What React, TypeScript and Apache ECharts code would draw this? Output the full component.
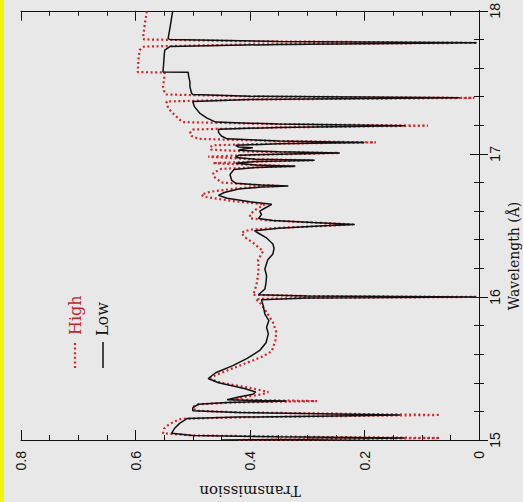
import React, { useEffect, useRef } from "react";
import * as echarts from "echarts";

// Wavelength (Å) and transmission, "Low" model (solid black)
const lowWave = [
  15.0, 15.005, 15.014, 15.022, 15.032, 15.047, 15.08, 15.116, 15.15, 15.16, 15.168, 15.175, 15.182, 15.192,
  15.205, 15.225, 15.25, 15.262, 15.268, 15.272, 15.276, 15.282, 15.3, 15.32, 15.336, 15.36, 15.4, 15.43,
  15.47, 15.52, 15.57, 15.626, 15.68, 15.742, 15.788, 15.835, 15.88, 15.94, 15.98, 15.993, 16.0, 16.006,
  16.015, 16.055, 16.1, 16.148, 16.195, 16.26, 16.3, 16.34, 16.37, 16.415, 16.445, 16.462, 16.48, 16.495,
  16.507, 16.52, 16.535, 16.548, 16.575, 16.6, 16.625, 16.647, 16.665, 16.69, 16.71, 16.73, 16.755, 16.768,
  16.775, 16.782, 16.795, 16.815, 16.856, 16.89, 16.905, 16.914, 16.922, 16.935, 16.946, 16.955, 16.963,
  16.975, 16.99, 16.998, 17.006, 17.014, 17.025, 17.035, 17.042, 17.048, 17.06, 17.07, 17.08, 17.09, 17.105,
  17.125, 17.15, 17.172, 17.185, 17.197, 17.208, 17.222, 17.25, 17.285, 17.33, 17.366, 17.38, 17.392, 17.402,
  17.415, 17.424, 17.47, 17.505, 17.54, 17.57, 17.572, 17.62, 17.68, 17.725, 17.75, 17.765, 17.776, 17.786,
  17.8, 17.806, 17.9, 18.0,
];
const lowTrans = [
  0.45, 0.3, 0.13, 0.35, 0.5, 0.537, 0.532, 0.523, 0.51, 0.42, 0.25, 0.138, 0.25, 0.42,
  0.5, 0.5, 0.49, 0.44, 0.38, 0.336, 0.38, 0.44, 0.42, 0.395, 0.39, 0.41, 0.455, 0.473,
  0.46, 0.43, 0.405, 0.383, 0.372, 0.368, 0.371, 0.367, 0.374, 0.377, 0.38, 0.3, 0.005, 0.3,
  0.385, 0.374, 0.372, 0.371, 0.374, 0.369, 0.36, 0.358, 0.36, 0.372, 0.385, 0.392, 0.35, 0.28,
  0.217, 0.29, 0.36, 0.385, 0.38, 0.383, 0.372, 0.362, 0.4, 0.44, 0.455, 0.445, 0.42, 0.38,
  0.333, 0.38, 0.425, 0.432, 0.435, 0.428, 0.39, 0.322, 0.39, 0.425, 0.39, 0.287, 0.39,
  0.425, 0.42, 0.35, 0.243, 0.35, 0.42, 0.41, 0.395, 0.42, 0.425, 0.35, 0.2, 0.35, 0.44,
  0.45, 0.455, 0.455, 0.35, 0.13, 0.35, 0.46, 0.475, 0.488, 0.497, 0.5, 0.4, 0.035, 0.4,
  0.5, 0.502, 0.505, 0.505, 0.507, 0.508, 0.552, 0.551, 0.55, 0.549, 0.54, 0.35, 0.004, 0.35,
  0.54, 0.543, 0.539, 0.535,
];

// "High" model (red dotted)
const highWave = [
  15.0, 15.006, 15.014, 15.022, 15.032, 15.047, 15.08, 15.104, 15.13, 15.148, 15.16, 15.168, 15.175, 15.183,
  15.193, 15.205, 15.232, 15.25, 15.262, 15.267, 15.272, 15.277, 15.283, 15.3, 15.32, 15.336, 15.36, 15.4,
  15.43, 15.47, 15.534, 15.58, 15.62, 15.69, 15.754, 15.823, 15.893, 15.962, 15.985, 15.993, 16.0, 16.006,
  16.015, 16.04, 16.1, 16.15, 16.2, 16.257, 16.32, 16.38, 16.42, 16.45, 16.47, 16.485, 16.496, 16.507,
  16.52, 16.535, 16.55, 16.578, 16.61, 16.647, 16.67, 16.7, 16.715, 16.735, 16.76, 16.77, 16.776, 16.783,
  16.8, 16.844, 16.867, 16.895, 16.906, 16.914, 16.922, 16.935, 16.946, 16.955, 16.963, 16.98, 16.992,
  17.006, 17.016, 17.03, 17.045, 17.06, 17.072, 17.08, 17.09, 17.105, 17.125, 17.145, 17.17, 17.185, 17.197,
  17.208, 17.222, 17.24, 17.285, 17.32, 17.366, 17.38, 17.391, 17.402, 17.415, 17.424, 17.47, 17.52, 17.569,
  17.571, 17.65, 17.725, 17.75, 17.765, 17.776, 17.787, 17.8, 17.806, 17.9, 18.0,
];
const highTrans = [
  0.42, 0.25, 0.068, 0.3, 0.5, 0.552, 0.55, 0.543, 0.532, 0.52, 0.4, 0.22, 0.068, 0.23,
  0.42, 0.495, 0.5, 0.49, 0.43, 0.36, 0.283, 0.36, 0.43, 0.41, 0.378, 0.368, 0.395, 0.45,
  0.473, 0.45, 0.409, 0.38, 0.362, 0.356, 0.354, 0.36, 0.371, 0.383, 0.39, 0.3, 0.003, 0.3,
  0.395, 0.392, 0.388, 0.386, 0.385, 0.386, 0.377, 0.395, 0.41, 0.415, 0.4, 0.34, 0.27, 0.22,
  0.29, 0.37, 0.4, 0.4, 0.39, 0.374, 0.43, 0.48, 0.485, 0.47, 0.42, 0.38, 0.348, 0.39,
  0.45, 0.464, 0.464, 0.45, 0.39, 0.32, 0.39, 0.465, 0.39, 0.29, 0.4, 0.473, 0.4,
  0.245, 0.4, 0.468, 0.47, 0.465, 0.35, 0.18, 0.35, 0.49, 0.502, 0.505, 0.5, 0.35, 0.089,
  0.35, 0.517, 0.523, 0.535, 0.543, 0.546, 0.4, 0.008, 0.4, 0.546, 0.549, 0.552, 0.55, 0.549,
  0.596, 0.595, 0.593, 0.585, 0.4, 0.003, 0.4, 0.585, 0.587, 0.584, 0.58,
];

const legendNames = ["High", "Low"];
const transName = "Transmission";
const waveName = "Wavelength (Å)";

const W = 523;
const H = 502;

export default function App() {
  const ref = useRef<HTMLDivElement>(null);
  useEffect(() => {
    if (!ref.current) return;
    const chart = echarts.init(ref.current, null, { renderer: "svg" });
    const tickFont = { fontFamily: "Liberation Sans", fontSize: 14, color: "#111" };
    const axisLine = { show: true, lineStyle: { color: "#111", width: 1 } };
    const xCommon = {
      type: "value" as const,
      min: 0,
      max: 0.8,
      interval: 0.2,
      inverse: true,
      splitLine: { show: false },
      axisLine,
      axisTick: { show: true, inside: true, length: 10, lineStyle: { color: "#111" } },
      minorTick: { show: true, splitNumber: 4, length: 5, lineStyle: { color: "#111" } },
    };
    const yCommon = {
      type: "value" as const,
      min: 15,
      max: 18,
      interval: 1,
      splitLine: { show: false },
      axisLine,
      axisTick: { show: true, inside: true, length: 9, lineStyle: { color: "#111" } },
      minorTick: { show: true, splitNumber: 5, length: 5, lineStyle: { color: "#111" } },
    };
    chart.setOption({
      animation: false,
      backgroundColor: "#e8e8e8",
      grid: { left: 21, right: 44, top: 9, bottom: 62, containLabel: false },
      xAxis: [
        {
          ...xCommon,
          position: "bottom",
          axisLabel: { ...tickFont, rotate: 90, margin: 11 },
        },
        {
          ...xCommon,
          position: "top",
          axisLabel: { show: false },
        },
      ],
      yAxis: [
        {
          ...yCommon,
          position: "right",
          axisLabel: { ...tickFont, rotate: 90, margin: 9 },
        },
        {
          ...yCommon,
          position: "left",
          axisLabel: { show: false },
        },
      ],
      series: [
        {
          name: legendNames[0],
          type: "line",
          xAxisIndex: 0,
          yAxisIndex: 0,
          showSymbol: false,
          data: highTrans.map((t, i) => [t, highWave[i]]),
          lineStyle: { color: "#d0262c", width: 2.2, type: [2, 2.6] },
          z: 2,
        },
        {
          name: legendNames[1],
          type: "line",
          xAxisIndex: 0,
          yAxisIndex: 0,
          showSymbol: false,
          data: lowTrans.map((t, i) => [t, lowWave[i]]),
          lineStyle: { color: "#111", width: 1.5 },
          z: 3,
        },
      ],
      graphic: [
        { type: "rect", left: 0, top: 0, shape: { width: 4, height: H }, style: { fill: "#f5f500" } },
        {
          type: "line",
          shape: { x1: 75, y1: 368, x2: 75, y2: 342 },
          style: { stroke: "#d0262c", lineWidth: 2.2, lineDash: [2, 2.6] },
        },
        {
          type: "line",
          shape: { x1: 103, y1: 368, x2: 103, y2: 342 },
          style: { stroke: "#111", lineWidth: 1.5 },
        },
        {
          type: "text",
          x: 75,
          y: 335,
          rotation: Math.PI / 2,
          style: {
            text: legendNames[0],
            fill: "#c0282e",
            font: "16px 'DejaVu Serif'",
            textAlign: "left",
            textVerticalAlign: "middle",
          },
        },
        {
          type: "text",
          x: 102,
          y: 336,
          rotation: Math.PI / 2,
          style: {
            text: legendNames[1],
            fill: "#111",
            font: "16px 'DejaVu Serif'",
            textAlign: "left",
            textVerticalAlign: "middle",
          },
        },
        {
          type: "text",
          x: 250,
          y: 491,
          rotation: Math.PI,
          style: {
            text: transName,
            fill: "#111",
            font: "15px 'DejaVu Serif'",
            textAlign: "center",
            textVerticalAlign: "middle",
          },
        },
        {
          type: "text",
          x: 514,
          y: 256,
          rotation: Math.PI / 2,
          style: {
            text: waveName,
            fill: "#111",
            font: "14px 'DejaVu Serif'",
            textAlign: "center",
            textVerticalAlign: "middle",
          },
        },
      ],
    });
    return () => chart.dispose();
  }, []);
  return (
    <div
      ref={ref}
      style={{ position: "fixed", left: 0, top: 0, width: W, height: H }}
    />
  );
}
